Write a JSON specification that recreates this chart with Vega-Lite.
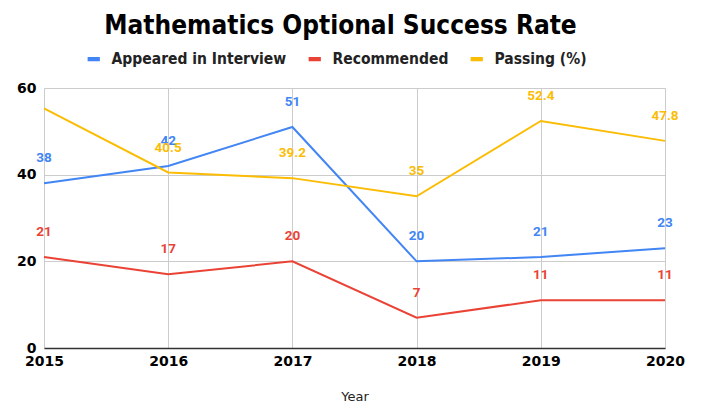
{
  "$schema": "https://vega.github.io/schema/vega-lite/v6.json",
  "width": 621,
  "height": 260,
  "autosize": {"type": "none"},
  "padding": {"left": 44, "top": 88, "right": 42, "bottom": 69},
  "background": "white",
  "title": {
    "text": "Mathematics Optional Success Rate",
    "font": "DejaVu Sans Condensed",
    "fontSize": 26,
    "fontWeight": "bold",
    "color": "#000000",
    "anchor": "middle",
    "dx": -14,
    "offset": 12
  },
  "data": {
    "values": [
      {"year": 2015, "series": "Appeared in Interview", "value": 38, "label": "38"},
      {"year": 2016, "series": "Appeared in Interview", "value": 42, "label": "42"},
      {"year": 2017, "series": "Appeared in Interview", "value": 51, "label": "51"},
      {"year": 2018, "series": "Appeared in Interview", "value": 20, "label": "20"},
      {"year": 2019, "series": "Appeared in Interview", "value": 21, "label": "21"},
      {"year": 2020, "series": "Appeared in Interview", "value": 23, "label": "23"},
      {"year": 2015, "series": "Recommended", "value": 21, "label": "21"},
      {"year": 2016, "series": "Recommended", "value": 17, "label": "17"},
      {"year": 2017, "series": "Recommended", "value": 20, "label": "20"},
      {"year": 2018, "series": "Recommended", "value": 7, "label": "7"},
      {"year": 2019, "series": "Recommended", "value": 11, "label": "11"},
      {"year": 2020, "series": "Recommended", "value": 11, "label": "11"},
      {"year": 2015, "series": "Passing (%)", "value": 55.3, "label": ""},
      {"year": 2016, "series": "Passing (%)", "value": 40.5, "label": "40.5"},
      {"year": 2017, "series": "Passing (%)", "value": 39.2, "label": "39.2"},
      {"year": 2018, "series": "Passing (%)", "value": 35, "label": "35"},
      {"year": 2019, "series": "Passing (%)", "value": 52.4, "label": "52.4"},
      {"year": 2020, "series": "Passing (%)", "value": 47.8, "label": "47.8"}
    ]
  },
  "encoding": {
    "x": {
      "field": "year",
      "type": "quantitative",
      "scale": {"domain": [2015, 2020], "nice": false, "zero": false},
      "axis": {
        "values": [2015, 2016, 2017, 2018, 2019, 2020],
        "format": "d",
        "title": "Year",
        "titleFont": "DejaVu Sans",
        "titleFontSize": 13,
        "titleFontWeight": "normal",
        "titleColor": "#222222",
        "titlePadding": 22,
        "labelFont": "DejaVu Sans",
        "labelFontSize": 14,
        "labelFontWeight": "bold",
        "labelColor": "#000000",
        "labelPadding": 6,
        "ticks": false,
        "domainColor": "#333333",
        "domainWidth": 1.5,
        "grid": true,
        "gridColor": "#cccccc",
        "labelFlush": false
      }
    },
    "y": {
      "field": "value",
      "type": "quantitative",
      "scale": {"domain": [0, 60], "nice": false},
      "axis": {
        "values": [0, 20, 40, 60],
        "title": null,
        "labelFont": "DejaVu Sans",
        "labelFontSize": 14,
        "labelFontWeight": "bold",
        "labelColor": "#000000",
        "labelPadding": 8,
        "ticks": false,
        "domain": false,
        "grid": true,
        "gridColor": "#cccccc"
      }
    },
    "color": {
      "field": "series",
      "type": "nominal",
      "scale": {
        "domain": ["Appeared in Interview", "Recommended", "Passing (%)"],
        "range": ["#4285F4", "#EA4335", "#FBBC04"]
      },
      "legend": {
        "title": null,
        "orient": "none",
        "direction": "horizontal",
        "legendX": 42,
        "legendY": -37,
        "labelFont": "DejaVu Sans Condensed",
        "labelFontSize": 15.5,
        "labelFontWeight": "bold",
        "labelColor": "#222222",
        "labelLimit": 0,
        "symbolType": "M-1,-0.35H1V0.35H-1Z",
        "symbolSize": 150,
        "symbolStrokeWidth": 0,
        "columnPadding": 20,
        "labelOffset": 10
      }
    }
  },
  "layer": [
    {
      "mark": {"type": "line", "strokeWidth": 2}
    },
    {
      "transform": [{"filter": "datum.label != ''"}],
      "mark": {
        "type": "text",
        "dy": -25,
        "font": "Roboto",
        "fontSize": 13.5,
        "fontWeight": "bold"
      },
      "encoding": {
        "text": {"field": "label"}
      }
    }
  ]
}
